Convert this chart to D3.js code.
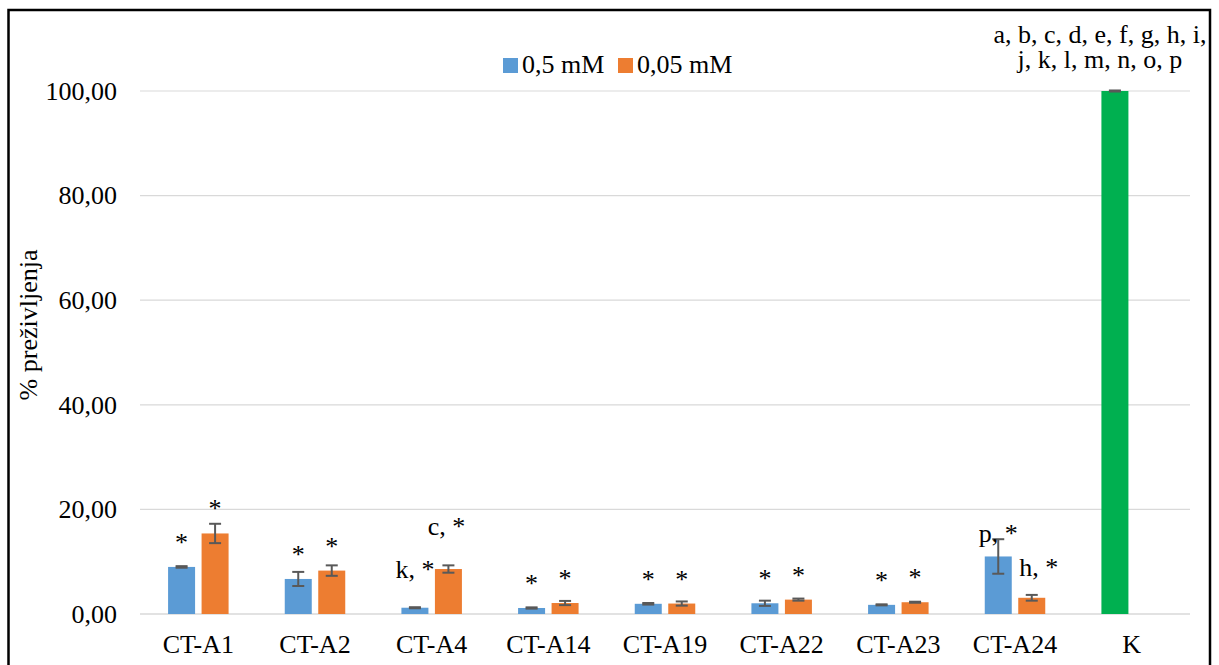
<!DOCTYPE html>
<html>
<head>
<meta charset="utf-8">
<script src="https://cdn.jsdelivr.net/npm/d3@7"></script>
<style>
  html, body { margin: 0; padding: 0; background: #fff; }
  svg text { font-family: "Liberation Serif", "Times New Roman", serif; fill: #000; }
</style>
</head>
<body>
<svg id="chart" width="1219" height="665"></svg>
<script>
// ---- data ----
const categories = ["CT-A1", "CT-A2", "CT-A4", "CT-A14", "CT-A19", "CT-A22", "CT-A23", "CT-A24", "K"];
const seriesNames = ["0,5 mM", "0,05 mM"];
const valuesHigh = [9.0, 6.7, 1.2, 1.15, 1.95, 2.05, 1.75, 11.0, 100];
const errorsHigh = [0.15, 1.35, 0.1, 0.12, 0.15, 0.5, 0.1, 3.3, 0.1];
const valuesLow = [15.4, 8.3, 8.6, 2.1, 2.0, 2.75, 2.25, 3.1, null];
const errorsLow = [1.85, 1.0, 0.7, 0.4, 0.4, 0.2, 0.1, 0.55, null];
const labelsHigh = ["*", "*", "k, *", "*", "*", "*", "*", "p, *", "a, b, c, d, e, f, g, h, i,|j, k, l, m, n, o, p"];
const labelsLow = ["*", "*", "c, *", "*", "*", "*", "*", "h, *", ""];
const yTicks = [0, 20, 40, 60, 80, 100];
const yTitle = "% preživljenja";

// ---- layout / style ----
const colors = ["#5b9bd5", "#ed7d31"];
const controlColor = "#00b050";
const fontSize = 26;
const plot = { left: 140, right: 1190, top: 91, bottom: 614 };
// label nudges (pixels): [dx, lift above bar top]
const nudgeHigh = { "CT-A4": [0, 30], "CT-A24": [0, 14], "K": [-15, 23] };
const nudgeLow = { "CT-A4": [-2, 34], "CT-A24": [7, 22] };
const defaultLift = 16;

const svg = d3.select("#chart");

// outer border
svg.append("rect")
  .attr("x", 8.5).attr("y", 10).attr("width", 1201.5).attr("height", 700)
  .attr("fill", "none").attr("stroke", "#000").attr("stroke-width", 2.5);

const x = d3.scaleBand().domain(categories).range([plot.left, plot.right]).padding(0);
const y = d3.scaleLinear().domain([0, 100]).range([plot.bottom, plot.top]);

const barW = 27, gap = 6.5;
const offsets = [-(gap / 2 + barW / 2), gap / 2 + barW / 2];

// gridlines
svg.append("g").selectAll("line").data(yTicks).join("line")
  .attr("x1", plot.left).attr("x2", plot.right)
  .attr("y1", d => y(d)).attr("y2", d => y(d))
  .attr("stroke", "#d9d9d9").attr("stroke-width", d => d === 0 ? 1.5 : 1.2);

// y axis labels via d3 axis
const yAxis = svg.append("g").attr("transform", `translate(${plot.left},0)`)
  .call(d3.axisLeft(y).tickValues(yTicks).tickSize(0).tickPadding(23)
    .tickFormat(d => d3.format(".2f")(d).replace(".", ",")));
yAxis.select(".domain").remove();
yAxis.selectAll("text").attr("font-size", fontSize).attr("font-family", "Liberation Serif").attr("fill", "#000");

// x axis
const xAxis = svg.append("g").attr("transform", `translate(0,${plot.bottom})`)
  .call(d3.axisBottom(x).tickSize(0).tickPadding(0));
xAxis.select(".domain").remove();
xAxis.selectAll("text").attr("font-size", fontSize).attr("font-family", "Liberation Serif")
  .attr("fill", "#000").attr("dy", null).attr("y", 39);

// series
const series = [
  { vals: valuesHigh, errs: errorsHigh, labels: labelsHigh, nudge: nudgeHigh },
  { vals: valuesLow, errs: errorsLow, labels: labelsLow, nudge: nudgeLow }
];

series.forEach((s, si) => {
  const data = categories.map((c, i) => ({ c, v: s.vals[i], e: s.errs[i], lab: s.labels[i] }))
    .filter(d => d.v !== null);
  const cx = d => x(d.c) + x.bandwidth() / 2 + offsets[si];
  const g = svg.append("g");
  g.selectAll("rect").data(data).join("rect")
    .attr("x", d => cx(d) - barW / 2).attr("width", barW)
    .attr("y", d => y(d.v)).attr("height", d => y(0) - y(d.v))
    .attr("fill", d => d.c === "K" ? controlColor : colors[si]);
  // error bars
  const eb = g.selectAll("g.err").data(data).join("g").attr("class", "err")
    .attr("stroke", "#595959").attr("stroke-width", 2);
  eb.append("line").attr("x1", cx).attr("x2", cx)
    .attr("y1", d => y(d.v + d.e)).attr("y2", d => y(Math.max(0, d.v - d.e)));
  eb.append("line").attr("x1", d => cx(d) - 6).attr("x2", d => cx(d) + 6)
    .attr("y1", d => y(d.v + d.e)).attr("y2", d => y(d.v + d.e));
  eb.append("line").attr("x1", d => cx(d) - 6).attr("x2", d => cx(d) + 6)
    .attr("y1", d => y(Math.max(0, d.v - d.e))).attr("y2", d => y(Math.max(0, d.v - d.e)));
  // labels
  data.filter(d => d.lab).forEach(d => {
    const n = s.nudge[d.c] || [0, defaultLift];
    const lines = d.lab.split("|");
    const t = g.append("text").attr("text-anchor", "middle").attr("font-size", fontSize)
      .attr("x", cx(d) + n[0]);
    lines.forEach((ln, li) => {
      t.append("tspan").attr("x", cx(d) + n[0])
        .attr("y", y(d.v) - n[1] - (lines.length - 1 - li) * 25)
        .text(ln);
    });
  });
});

// legend
const legend = svg.append("g");
const legendItems = [{ name: seriesNames[0], x: 503 }, { name: seriesNames[1], x: 618 }];
legendItems.forEach((it, i) => {
  legend.append("rect").attr("x", it.x).attr("y", 58).attr("width", 15).attr("height", 15)
    .attr("fill", colors[i]);
  legend.append("text").attr("x", it.x + 19).attr("y", 73).attr("font-size", fontSize).text(it.name);
});

// y title
svg.append("text").attr("transform", "translate(37,325) rotate(-90)")
  .attr("text-anchor", "middle").attr("font-size", 26).text(yTitle);
</script>
</body>
</html>
